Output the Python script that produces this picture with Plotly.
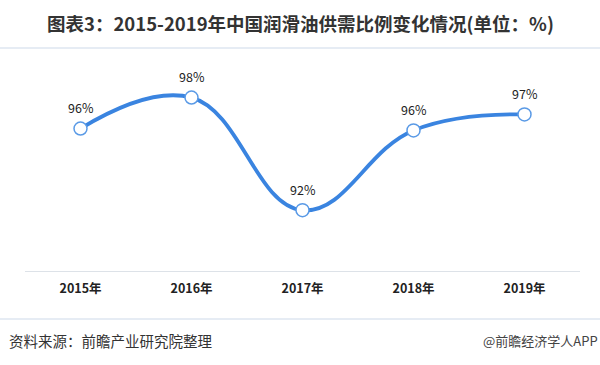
import plotly.graph_objects as go

years = ["2015年", "2016年", "2017年", "2018年", "2019年"]
ratio = [96.35, 98.0, 92.0, 96.25, 97.1]
labels = ["96%", "98%", "92%", "96%", "97%"]

title_text = "图表3：2015-2019年中国润滑油供需比例变化情况(单位：%)"
source_text = "资料来源：前瞻产业研究院整理"
credit_text = "@前瞻经济学人APP"

font_cjk = "Noto Sans CJK SC"

W, H = 600, 365
ML, MR, MT, MB = 25, 20, 60, 94
plot_h = H - MT - MB
plot_w = W - ML - MR


def py(pix):
    return (H - MB - pix) / plot_h


def px(pix):
    return (pix - ML) / plot_w


fig = go.Figure()
fig.add_trace(go.Scatter(
    x=years, y=ratio,
    mode="lines+markers",
    line=dict(color="#3a84e0", width=3.8, shape="spline", smoothing=1.2),
    marker=dict(size=13, color="white", line=dict(color="#5a9ae6", width=1.5)),
    cliponaxis=False,
    hoverinfo="skip",
))

label_anns = [
    dict(x=yr, y=v, xref="x", yref="y", text=lb, showarrow=False,
         yshift=21, font=dict(size=12.5, color="#222222", family=font_cjk))
    for yr, v, lb in zip(years, ratio, labels)
]

fig.update_layout(
    width=W, height=H,
    margin=dict(l=ML, r=MR, t=MT, b=MB),
    paper_bgcolor="white", plot_bgcolor="white",
    showlegend=False,
    xaxis=dict(
        type="category",
        showgrid=False, zeroline=False,
        showline=True, linecolor="#dde2e8", linewidth=1,
        ticks="", ticklabelstandoff=6,
        tickfont=dict(size=12.5, color="#222222", family=font_cjk, weight="bold"),
        range=[-0.5, 4.5],
    ),
    yaxis=dict(
        range=[88.76, 100.0],
        showgrid=False, zeroline=False, showline=False,
        showticklabels=False, ticks="",
    ),
    annotations=label_anns + [
        dict(text="<b>" + title_text + "</b>", xref="paper", yref="paper",
             x=px(300), y=py(23), xanchor="center", yanchor="middle", showarrow=False,
             font=dict(size=18.5, color="#333333", family=font_cjk)),
        dict(text=source_text, xref="paper", yref="paper",
             x=px(7), y=py(340), xanchor="left", yanchor="middle", showarrow=False,
             font=dict(size=14.5, color="#333333", family=font_cjk)),
        dict(text=credit_text, xref="paper", yref="paper",
             x=px(600), y=py(340), xanchor="right", yanchor="middle", showarrow=False,
             font=dict(size=13, color="#444444", family=font_cjk)),
    ],
    shapes=[
        dict(type="line", xref="paper", yref="paper", x0=px(0), x1=px(600),
             y0=py(48), y1=py(48), line=dict(color="#e6ecf4", width=2)),
        dict(type="line", xref="paper", yref="paper", x0=px(0), x1=px(600),
             y0=py(319), y1=py(319), line=dict(color="#e6ecf4", width=2)),
    ],
)

fig.write_html("out.html")
